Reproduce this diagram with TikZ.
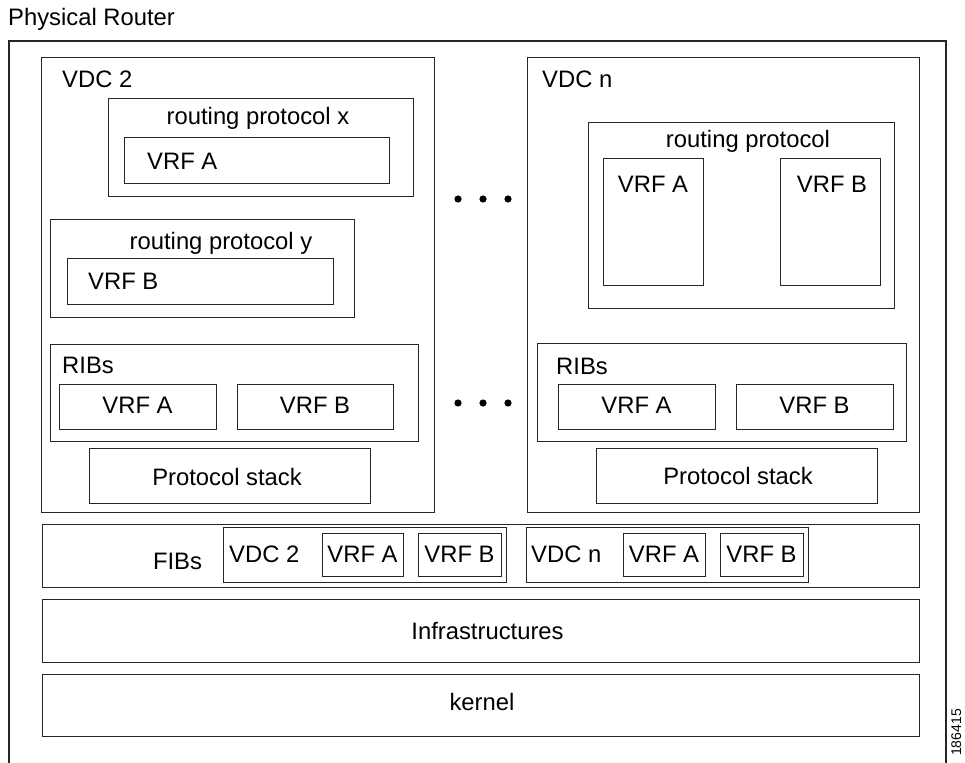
\documentclass[tikz,border=0pt]{standalone}
\usepackage{fontspec}
\setmainfont{Liberation Sans}
\begin{document}
\begin{tikzpicture}[x=1pt,y=-1pt,
  box/.style={draw=black!85, line width=1.2pt, inner sep=0pt, fill=none},
  lbl/.style={inner sep=0pt, font=\fontsize{23.8}{28}\selectfont},
  tiny/.style={inner sep=0pt, font=\fontsize{14}{17}\selectfont},
  dot/.style={fill=black}]
\newcommand{\boxat}[5]{\node[box, anchor=north west, minimum width={(#4)-(#2)}, minimum height={(#5)-(#3)}] (#1) at (#2,#3) {};}
\useasboundingbox (0,0) rectangle (965,762);
\fill[white] (0,0) rectangle (965,762);

% outer physical router frame (open at the bottom)
\coordinate (obl) at (9,770);
\coordinate (otl) at (9,41);
\coordinate (otr) at (946,41);
\coordinate (obr) at (946,770);
\draw[black!85, line width=1.2pt] (obl) -- (otl) -- (otr) -- (obr);
\node[lbl, anchor=base west] (phys) at (8,26) {Physical Router};

% ---------------- VDC 2 ----------------
\boxat{vdc2}{41}{57}{434}{512}
\node[lbl, anchor=base west] (vdc2l) at (62,88) {VDC 2};
\boxat{rpx}{108}{98}{413}{196}
\node[lbl, anchor=base] (rpxl) at (258,125) {routing protocol x};
\boxat{rpxa}{124}{137}{389}{183}
\node[lbl, anchor=base west] (rpxal) at (147,169) {VRF A};
\boxat{rpy}{50}{219}{354}{317}
\node[lbl, anchor=base] (rpyl) at (221,249) {routing protocol y};
\boxat{rpyb}{67}{258}{333}{304}
\node[lbl, anchor=base west] (rpybl) at (88,289) {VRF B};
\boxat{rib2}{50}{344}{418}{441}
\node[lbl, anchor=base west] (rib2l) at (62,373) {RIBs};
\boxat{rib2a}{59}{384}{216}{429}
\node[lbl, anchor=base] (rib2al) at (137.5,413) {VRF A};
\boxat{rib2b}{237}{384}{393}{429}
\node[lbl, anchor=base] (rib2bl) at (315,413) {VRF B};
\boxat{ps2}{89}{448}{370}{503}
\node[lbl, anchor=base] (ps2l) at (227,485) {Protocol stack};

% ---------------- dots ----------------
\foreach \x in {458,483,508} {
  \fill[dot] (\x,199) circle (3.6);
  \fill[dot] (\x,403) circle (3.6);
}

% ---------------- VDC n ----------------
\boxat{vdcn}{527}{57}{919}{512}
\node[lbl, anchor=base west] (vdcnl) at (542,88) {VDC n};
\boxat{rp}{588}{122}{894}{308}
\node[lbl, anchor=base] (rpl) at (748,148) {routing protocol};
\boxat{rpa}{603}{158}{703}{285}
\node[lbl, anchor=base] (rpal) at (653,192) {VRF A};
\boxat{rpb}{780}{158}{880}{285}
\node[lbl, anchor=base] (rpbl) at (832,192) {VRF B};
\boxat{ribn}{537}{343}{906}{441}
\node[lbl, anchor=base west] (ribnl) at (556,374) {RIBs};
\boxat{ribna}{558}{384}{715}{429}
\node[lbl, anchor=base] (ribnal) at (636.5,413) {VRF A};
\boxat{ribnb}{736}{384}{893}{429}
\node[lbl, anchor=base] (ribnbl) at (814.5,413) {VRF B};
\boxat{psn}{596}{448}{877}{503}
\node[lbl, anchor=base] (psnl) at (738,484) {Protocol stack};

% ---------------- FIBs ----------------
\boxat{fibs}{42}{524}{919}{587}
\node[lbl, anchor=base] (fibsl) at (177.5,569) {FIBs};
\boxat{f2}{223}{527}{506}{582}
\node[lbl, anchor=base west] (f2l) at (229,562) {VDC 2};
\boxat{f2a}{322}{533}{403}{576}
\node[lbl, anchor=base] (f2al) at (362.5,562) {VRF A};
\boxat{f2b}{418}{533}{501}{576}
\node[lbl, anchor=base] (f2bl) at (459.5,562) {VRF B};
\boxat{fn}{526}{527}{808}{582}
\node[lbl, anchor=base west] (fnl) at (531,562) {VDC n};
\boxat{fna}{623}{533}{705}{576}
\node[lbl, anchor=base] (fnal) at (664,562) {VRF A};
\boxat{fnb}{720}{533}{803}{576}
\node[lbl, anchor=base] (fnbl) at (761.5,562) {VRF B};

% ---------------- Infrastructures / kernel ----------------
\boxat{infra}{42}{599}{919}{662}
\node[lbl, anchor=base] (infral) at (487.5,639) {Infrastructures};
\boxat{kern}{42}{674}{919}{736}
\node[lbl, anchor=base] (kernl) at (482,710) {kernel};

% figure number
\node[tiny, rotate=90, anchor=base west] (fignum) at (961,756) {186415};
\end{tikzpicture}
\end{document}
